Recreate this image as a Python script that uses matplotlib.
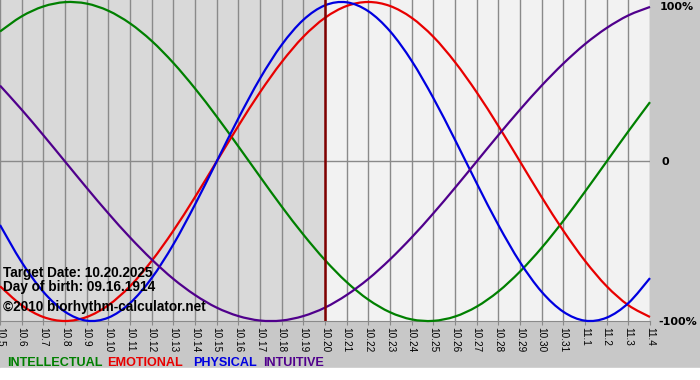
import matplotlib.pyplot as plt
from matplotlib.patches import Rectangle, PathPatch
from matplotlib.path import Path

# day labels along the bottom (month.day)
days = ['10.5', '10.6', '10.7', '10.8', '10.9', '10.10', '10.11', '10.12', '10.13',
        '10.14', '10.15', '10.16', '10.17', '10.18', '10.19', '10.20', '10.21',
        '10.22', '10.23', '10.24', '10.25', '10.26', '10.27', '10.28', '10.29',
        '10.30', '10.31', '11.1', '11.2', '11.3', '11.4']
target_day = '10.20'

# cycle values per day (-1 .. 1)
intellectual = [0.815, 0.910, 0.972, 0.999, 0.990, 0.945, 0.866, 0.756, 0.618, 0.458,
                0.282, 0.095, -0.095, -0.282, -0.458, -0.618, -0.756, -0.866, -0.945,
                -0.990, -0.999, -0.972, -0.910, -0.815, -0.690, -0.541, -0.372, -0.189,
                0.000, 0.189, 0.372]
emotional = [-0.782, -0.901, -0.975, -1.000, -0.975, -0.901, -0.782, -0.623, -0.434,
             -0.223, 0.000, 0.223, 0.434, 0.623, 0.782, 0.901, 0.975, 1.000, 0.975,
             0.901, 0.782, 0.623, 0.434, 0.223, 0.000, -0.223, -0.434, -0.623, -0.782,
             -0.901, -0.975]
physical = [-0.398, -0.631, -0.817, -0.942, -0.998, -0.979, -0.888, -0.731, -0.520,
            -0.270, 0.000, 0.270, 0.520, 0.731, 0.888, 0.979, 0.998, 0.942, 0.817,
            0.631, 0.398, 0.136, -0.136, -0.398, -0.631, -0.817, -0.942, -0.998,
            -0.979, -0.888, -0.731]
intuitive = [0.476, 0.325, 0.165, 0.000, -0.165, -0.325, -0.476, -0.614, -0.736,
             -0.837, -0.916, -0.969, -0.997, -0.997, -0.969, -0.916, -0.837, -0.736,
             -0.614, -0.476, -0.325, -0.165, 0.000, 0.165, 0.325, 0.476, 0.614, 0.736,
             0.837, 0.916, 0.969]

names = ['INTELLECTUAL', 'EMOTIONAL', 'PHYSICAL', 'INTUITIVE']
colors = ['#008000', '#e80000', '#0000e0', '#50008c']

W, H = 700, 380


def smooth_path(xs, ys):
    # bezier curve through every day point (catmull-rom style tangents)
    pts = list(zip(xs, ys))
    n = len(pts)
    verts = [pts[0]]
    codes = [Path.MOVETO]
    for i in range(n - 1):
        p0 = pts[i - 1] if i > 0 else pts[i]
        p1 = pts[i]
        p2 = pts[i + 1]
        p3 = pts[i + 2] if i + 2 < n else pts[i + 1]
        c1 = (p1[0] + (p2[0] - p0[0]) / 6, p1[1] + (p2[1] - p0[1]) / 6)
        c2 = (p2[0] - (p3[0] - p1[0]) / 6, p2[1] - (p3[1] - p1[1]) / 6)
        verts += [c1, c2, p2]
        codes += [Path.CURVE4] * 3
    return Path(verts, codes)


fig = plt.figure(figsize=(7, 3.8), dpi=100, facecolor='#c8c8c8')
ax = fig.add_axes([0, 1 - 321 / H, 650 / W, 321 / H])

x = list(range(len(days)))
t = days.index(target_day)

ax.set_facecolor('#f2f2f2')
ax.axvspan(0, t, color='#d9d9d9', zorder=0)
ax.set_axisbelow(True)
ax.grid(axis='x', color='#8a8a8a', lw=1)
ax.axhline(0, color='#8a8a8a', lw=1, zorder=1)

for vals, c in zip([intellectual, emotional, physical, intuitive], colors):
    ax.add_patch(PathPatch(smooth_path(x, vals), fill=False, edgecolor=c,
                           lw=1.6, clip_on=False, zorder=3))

ax.axvline(t, color='#800000', lw=1.8, zorder=4)

ax.set_xlim(0, len(days) - 1)
ax.set_ylim(-1, 1.0125)
ax.set_yticks([])
ax.set_xticks(x)
ax.set_xticklabels(days, rotation=270, fontsize=7.2, fontfamily='Liberation Sans')
ax.tick_params(axis='x', length=3, color='#8a8a8a', pad=1.5)
for s in ['top', 'left', 'right']:
    ax.spines[s].set_visible(False)
ax.spines['bottom'].set_color('#8a8a8a')


def fx(px):
    return px / W


def fy(py):
    return 1 - py / H


# percent labels on the right
fig.text(fx(660), fy(7), '100%', fontsize=8, fontweight='bold', va='center')
fig.text(fx(661), fy(162), '0', fontsize=8, fontweight='bold', va='center')
fig.text(fx(658), fy(322), '-100%', fontsize=8, fontweight='bold', va='center')

# info text inside the plot
info = ['Target Date: 10.20.2025', 'Day of birth: 09.16.1914', '\u00a92010 biorhythm-calculator.net']
for s, py in zip(info, [277, 291, 311]):
    fig.text(fx(3), fy(py), s, fontsize=9.8, fontweight='bold',
             fontfamily='Liberation Sans', va='baseline', zorder=5)

# white strip and legend at the bottom
fig.add_artist(Rectangle((0, 0), 1, 12 / H, transform=fig.transFigure,
                         color='white', zorder=0))
for s, c, px in zip(names, colors, [7, 107, 193, 263]):
    fig.text(fx(px), fy(366), s, color=c, fontsize=9.1, fontweight='bold',
             fontfamily='Liberation Sans', va='baseline')

fig.savefig('out.png', dpi=100, facecolor=fig.get_facecolor())
